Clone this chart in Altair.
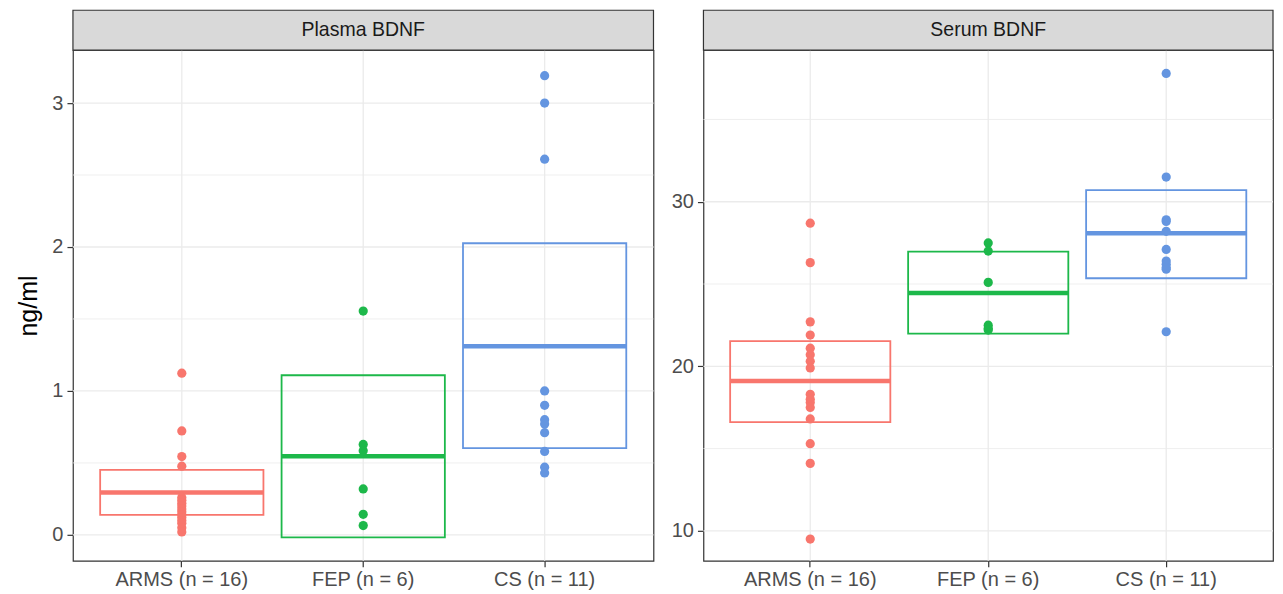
import altair as alt
import pandas as pd

groups = ["ARMS (n = 16)", "FEP (n = 6)", "CS (n = 11)"]
colors = ["#F8766D", "#1DB84A", "#6495E0"]

# Plasma BDNF (ng/ml)
plasma_arms = [1.123, 0.722, 0.544, 0.477, 0.26, 0.24, 0.22, 0.20, 0.18, 0.16,
               0.14, 0.12, 0.10, 0.08, 0.05, 0.02]
plasma_fep = [1.555, 0.628, 0.584, 0.319, 0.143, 0.065]
plasma_cs = [3.19, 3.0, 2.61, 1.0, 0.9, 0.8, 0.77, 0.71, 0.58, 0.47, 0.43]
plasma_center = [0.294, 0.547, 1.311]
plasma_lower = [0.139, -0.018, 0.602]
plasma_upper = [0.451, 1.109, 2.026]

# Serum BDNF (ng/ml)
serum_arms = [28.7, 26.3, 22.7, 21.9, 21.1, 20.7, 20.3, 19.9, 18.3, 18.0, 17.8,
              17.5, 16.8, 15.3, 14.1, 9.5]
serum_fep = [27.5, 27.0, 25.1, 22.5, 22.3, 22.2]
serum_cs = [37.8, 31.5, 28.9, 28.8, 28.2, 27.1, 26.4, 26.2, 26.0, 25.9, 22.1]
serum_center = [19.1, 24.45, 28.08]
serum_lower = [16.61, 21.98, 25.35]
serum_upper = [21.53, 26.97, 30.71]

plasma_major = [0, 1, 2, 3]
plasma_minor = [0.5, 1.5, 2.5]
serum_major = [10, 20, 30]
serum_minor = [15, 25, 35]

FONT = "Liberation Sans"
H = 511
STRIP = 40


def panel(title, series, center, lower, upper, major, minor, domain, W, ytitle):
    pts = pd.DataFrame(
        [{"group": g, "value": v} for g, vals in zip(groups, series) for v in vals]
    )
    box = pd.DataFrame({"group": groups, "center": center, "lower": lower, "upper": upper})
    grid = pd.DataFrame(
        [{"v": v, "kind": "major"} for v in major] + [{"v": v, "kind": "minor"} for v in minor]
    )
    cats = pd.DataFrame({"group": groups})
    strip = pd.DataFrame({"label": [title]})

    step = W / 3.2
    xenc = alt.X(
        "group:N",
        sort=groups,
        scale=alt.Scale(domain=groups, paddingInner=0.1, paddingOuter=0.15),
        axis=alt.Axis(
            title=None, labelFontSize=20, labelColor="#4D4D4D", labelFont=FONT,
            tickColor="#333333", tickSize=6, tickWidth=1.2, labelPadding=3,
            domain=False, grid=False, labelAngle=0,
        ),
    )
    yscale = alt.Scale(domain=domain, nice=False, zero=False)
    yaxis = alt.Axis(
        values=major, format="d", labelFontSize=20, labelColor="#4D4D4D", labelFont=FONT,
        tickColor="#333333", tickSize=6, tickWidth=1.2, labelPadding=4, domain=False,
        grid=False, title=ytitle if ytitle else None, titleFontSize=25,
        titleFontWeight="normal", titleFont=FONT, titleColor="#000000", titlePadding=10,
    )
    col = alt.Color("group:N", scale=alt.Scale(domain=groups, range=colors), legend=None)

    hgrid = alt.Chart(grid).mark_rule(color="#EBEBEB").encode(
        y=alt.Y("v:Q", scale=yscale, axis=yaxis),
        strokeWidth=alt.StrokeWidth("kind:N", scale=alt.Scale(domain=["major", "minor"], range=[1.3, 0.8]), legend=None),
    )
    vgrid = alt.Chart(cats).mark_rule(color="#EBEBEB", strokeWidth=1.3).encode(x=xenc)
    bars = alt.Chart(box).mark_bar(fill="white", fillOpacity=0, strokeWidth=1.8).encode(
        x=xenc,
        y=alt.Y("lower:Q", scale=yscale, axis=yaxis),
        y2="upper:Q",
        stroke=alt.Stroke("group:N", scale=alt.Scale(domain=groups, range=colors), legend=None),
    )
    mid = alt.Chart(box).mark_tick(thickness=4.5, size=step * 0.9, opacity=1).encode(
        x=xenc, y=alt.Y("center:Q", scale=yscale, axis=yaxis), color=col
    )
    dots = alt.Chart(pts).mark_circle(size=85, opacity=1).encode(
        x=xenc, y=alt.Y("value:Q", scale=yscale, axis=yaxis), color=col
    )
    srect = alt.Chart(strip).mark_rect(
        fill="#D9D9D9", stroke="#333333", strokeWidth=1.2
    ).encode(x=alt.value(0), x2=alt.value(W), y=alt.value(-STRIP), y2=alt.value(0))
    stext = alt.Chart(strip).mark_text(
        font=FONT, fontSize=19.5, color="#1A1A1A", baseline="middle", align="center"
    ).encode(x=alt.value(W / 2), y=alt.value(-STRIP / 2), text="label:N")

    return alt.layer(hgrid, vgrid, bars, mid, dots, srect, stext).properties(width=W, height=H)


left = panel("Plasma BDNF", [plasma_arms, plasma_fep, plasma_cs], plasma_center,
             plasma_lower, plasma_upper, plasma_major, plasma_minor, [-0.18, 3.367], 581, "ng/ml")
right = panel("Serum BDNF", [serum_arms, serum_fep, serum_cs], serum_center,
              serum_lower, serum_upper, serum_major, serum_minor, [8.18, 39.21], 570, None)

chart = alt.hconcat(left, right, spacing=15).resolve_scale(
    y="independent", x="independent", color="independent", stroke="independent",
    strokeWidth="independent"
).properties(
    padding={"left": 8, "top": 0, "right": 0, "bottom": 0}
).configure_view(stroke="#333333", strokeWidth=1.2)

chart.save("out.html", embed_options={"renderer": "svg", "actions": False})
